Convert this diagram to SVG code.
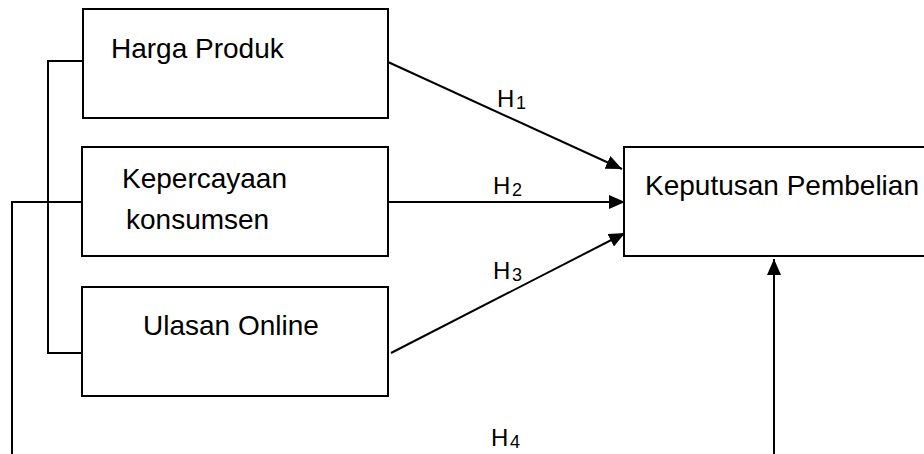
<svg xmlns="http://www.w3.org/2000/svg" width="924" height="454" viewBox="0 0 924 454">
<style>
.box{fill:#fff;stroke:#000;stroke-width:2}
.t{font-family:"Liberation Sans",Arial,sans-serif;font-size:28px;fill:#000}
.h{font-family:"Liberation Sans",Arial,sans-serif;font-size:24px;fill:#000}
.s{font-family:"Liberation Sans",Arial,sans-serif;font-size:18px;fill:#000}
.ln{fill:none;stroke:#000;stroke-width:2}
</style>
<defs>
<marker id="ah" markerUnits="userSpaceOnUse" markerWidth="16" markerHeight="14" refX="16" refY="7" orient="auto">
<path d="M0,0 L16,7 L0,14 z" fill="#000"/>
</marker>
</defs>
<rect width="924" height="454" fill="#fff"/>
<g id="connectors">
<polyline class="ln" points="83,61 48,61 48,353 82,353"/>
<polyline class="ln" points="82,202 12,202 12,454"/>
<line class="ln" x1="388" y1="62" x2="622" y2="169" marker-end="url(#ah)"/>
<line class="ln" x1="388" y1="202" x2="625" y2="202" marker-end="url(#ah)"/>
<line class="ln" x1="391" y1="353" x2="625" y2="233" marker-end="url(#ah)"/>
<line class="ln" x1="774" y1="454" x2="774" y2="259" marker-end="url(#ah)"/>
<text class="h" x="497" y="107">H</text><text class="s" x="516" y="109">1</text>
<text class="h" x="493" y="194">H</text><text class="s" x="512" y="196">2</text>
<text class="h" x="493" y="279">H</text><text class="s" x="512" y="281">3</text>
<text class="h" x="491" y="446">H</text><text class="s" x="510" y="448">4</text>
</g>
<g id="harga">
<rect class="box" x="83" y="9" width="305" height="109"/>
<text class="t" x="111" y="58">Harga Produk</text>
</g>
<g id="kepercayaan">
<rect class="box" x="82" y="147" width="306" height="109"/>
<text class="t" x="122" y="188">Kepercayaan</text>
<text class="t" x="126" y="229">konsumsen</text>
</g>
<g id="ulasan">
<rect class="box" x="82" y="287" width="306" height="109"/>
<text class="t" x="143" y="335">Ulasan Online</text>
</g>
<g id="keputusan">
<rect class="box" x="624" y="147" width="400" height="109"/>
<text class="t" x="645" y="195">Keputusan Pembelian</text>
</g>
</svg>
